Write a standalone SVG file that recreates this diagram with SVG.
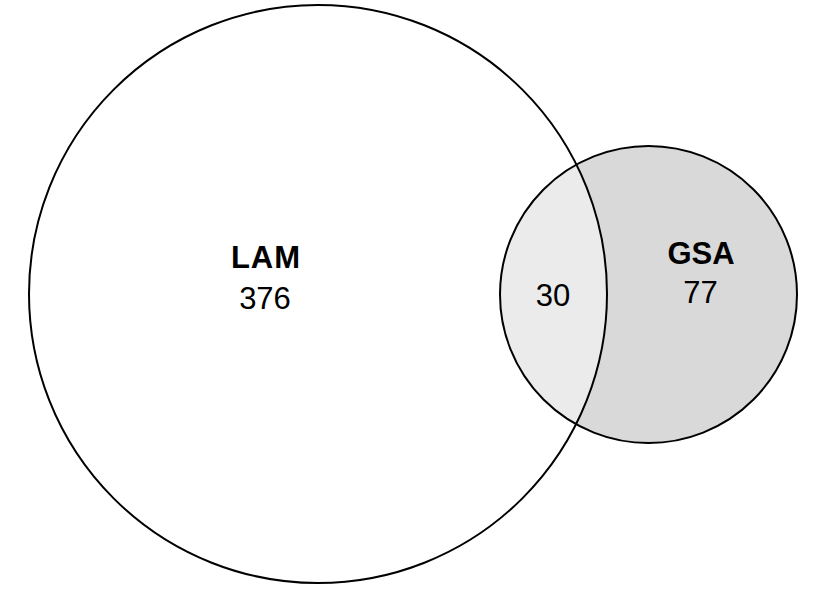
<svg xmlns="http://www.w3.org/2000/svg" width="826" height="590" viewBox="0 0 826 590">
  <style>
    .outline { fill: none; stroke: #000; stroke-width: 2; }
    .lbl { font-family: "Liberation Sans", Arial, sans-serif; font-size: 31px; text-anchor: middle; fill: #000; }
    .b { font-weight: bold; }
  </style>
  <defs>
    <clipPath id="clipLAM"><circle cx="318" cy="294" r="289"/></clipPath>
  </defs>
  <rect width="826" height="590" fill="#fff"/>
  <g id="LAM">
    <circle cx="318" cy="294" r="289" fill="#fff"/>
  </g>
  <g id="GSA">
    <circle cx="648.5" cy="294.5" r="148.5" fill="#d9d9d9"/>
  </g>
  <g id="overlap">
    <circle cx="648.5" cy="294.5" r="148.5" fill="#ebebeb" clip-path="url(#clipLAM)"/>
  </g>
  <g id="connectors">
    <circle class="outline" cx="318" cy="294" r="289"/>
    <circle class="outline" cx="648.5" cy="294.5" r="148.5"/>
  </g>
  <g id="labels">
    <text class="lbl b" x="266" y="268" letter-spacing="1">LAM</text>
    <text class="lbl" x="265" y="309">376</text>
    <text class="lbl b" x="701" y="264">GSA</text>
    <text class="lbl" x="700.5" y="303">77</text>
    <text class="lbl" x="553" y="306">30</text>
  </g>
</svg>
